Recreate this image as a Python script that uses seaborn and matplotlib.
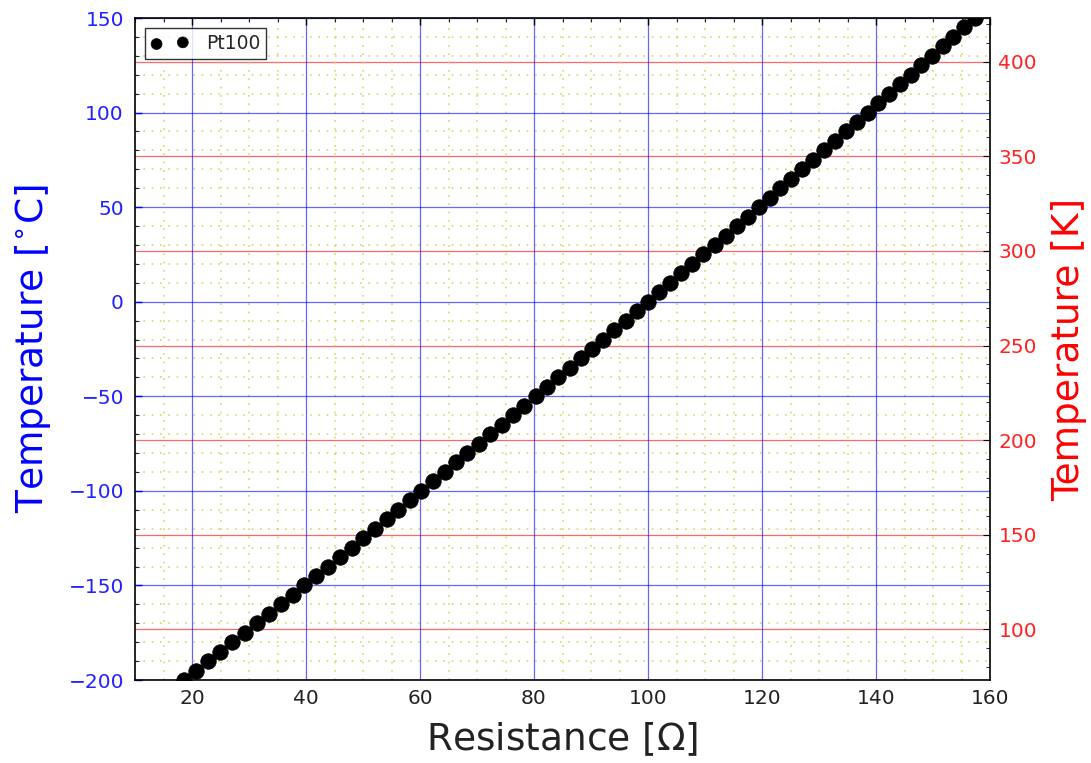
import matplotlib
matplotlib.use("Agg")
import matplotlib.pyplot as plt
import seaborn as sns
import pandas as pd
from matplotlib.ticker import MultipleLocator

temperature_c = [-200, -195, -190, -185, -180, -175, -170, -165, -160, -155,
                 -150, -145, -140, -135, -130, -125, -120, -115, -110, -105,
                 -100, -95, -90, -85, -80, -75, -70, -65, -60, -55,
                 -50, -45, -40, -35, -30, -25, -20, -15, -10, -5,
                 0, 5, 10, 15, 20, 25, 30, 35, 40, 45,
                 50, 55, 60, 65, 70, 75, 80, 85, 90, 95,
                 100, 105, 110, 115, 120, 125, 130, 135, 140, 145, 150]
resistance = [18.52, 20.68, 22.83, 24.97, 27.10, 29.22, 31.34, 33.44, 35.54, 37.64,
              39.72, 41.80, 43.88, 45.94, 48.00, 50.06, 52.11, 54.15, 56.19, 58.23,
              60.26, 62.28, 64.30, 66.31, 68.33, 70.33, 72.33, 74.33, 76.33, 78.32,
              80.31, 82.29, 84.27, 86.25, 88.22, 90.19, 92.16, 94.12, 96.09, 98.04,
              100.00, 101.95, 103.90, 105.85, 107.79, 109.73, 111.67, 113.61, 115.54, 117.47,
              119.40, 121.32, 123.24, 125.16, 127.08, 128.99, 130.90, 132.80, 134.71, 136.61,
              138.51, 140.40, 142.29, 144.18, 146.07, 147.95, 149.83, 151.71, 153.58, 155.46, 157.33]
x_ticks = [20, 40, 60, 80, 100, 120, 140, 160]
c_ticks = [-200, -150, -100, -50, 0, 50, 100, 150]
k_ticks = [100, 150, 200, 250, 300, 350, 400]

df = pd.DataFrame({"R": resistance, "T": temperature_c})

sns.set_style("white")
plt.rcParams["font.family"] = ["DejaVu Sans"]

fig = plt.figure(figsize=(10.91, 7.63), dpi=100)
ax = fig.add_axes([135/1091, 1-680/763, (990-135)/1091, (680-18)/763])

sns.scatterplot(data=df, x="R", y="T", ax=ax, color="black", s=125,
                edgecolor="black", linewidth=0.5, label="Pt100", zorder=5)

ax.set_xlim(10, 160)
ax.set_ylim(-200, 150)
ax.set_xticks(x_ticks)
ax.set_yticks(c_ticks)
ax.xaxis.set_minor_locator(MultipleLocator(5))
ax.yaxis.set_minor_locator(MultipleLocator(10))

ax.grid(True, which="major", color="#0000ff", alpha=0.6, linewidth=0.9)
ax.grid(True, which="minor", color="#cccc44", alpha=0.8, linestyle=(0, (1, 4)), linewidth=1.2)
ax.set_axisbelow(True)

ax.tick_params(axis="both", which="both", direction="in", top=True, right=False)
ax.tick_params(axis="both", which="major", length=5, labelsize=14.5, width=1)
ax.tick_params(axis="both", which="minor", length=3, width=0.8)
ax.tick_params(axis="y", colors="#0000ff", labelcolor="#2222ff", pad=8)
ax.tick_params(axis="x", colors="black", labelcolor="#222222", pad=6.5)

ax.set_xlabel(r"Resistance [$\Omega$]", fontsize=27, color="#222222", labelpad=9)
ax.set_ylabel(r"Temperature [$^{\circ}$C]", fontsize=27, color="#0000ff", labelpad=11)

for sp in ax.spines.values():
    sp.set_color("black")
    sp.set_linewidth(1.2)
    sp.set_visible(True)

ax2 = ax.twinx()
ax2.set_ylim(-200 + 273.15, 150 + 273.15)
ax2.set_yticks(k_ticks)
ax2.yaxis.set_minor_locator(MultipleLocator(10))
ax2.grid(True, which="major", color="#ff0000", alpha=0.6, linewidth=0.9)
ax2.tick_params(axis="y", which="both", direction="in", colors="black", labelcolor="#ff2222")
ax2.tick_params(axis="y", which="major", length=5, labelsize=14.5, pad=6)
ax2.tick_params(axis="y", which="minor", length=3)
ax2.set_ylabel("Temperature [K]", fontsize=27, color="#ff0000", labelpad=10)
for sp in ax2.spines.values():
    sp.set_visible(False)
ax2.set_zorder(ax.get_zorder() - 1)
ax.patch.set_visible(False)

leg = ax.legend(loc="upper left", scatterpoints=2, fontsize=13.5, frameon=True,
                fancybox=False, edgecolor="black", borderaxespad=0.55,
                handlelength=2.0, handletextpad=0.95, borderpad=0.3,
                markerscale=0.7)
leg.get_frame().set_linewidth(1.0)

fig.savefig("out.png", dpi=100)
